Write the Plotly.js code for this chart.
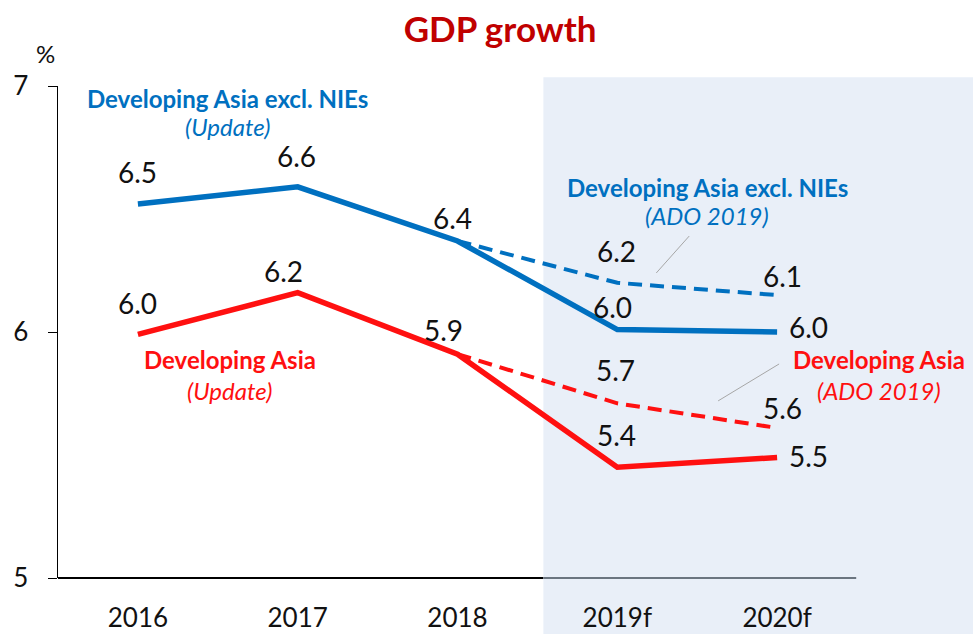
<!DOCTYPE html>
<html>
<head>
<meta charset="utf-8">
<script src="https://cdn.plot.ly/plotly-3.0.1.min.js"></script>
<style>html,body{margin:0;padding:0;background:#fff;}#chart{width:973px;height:634px;}</style>
</head>
<body>
<div id="chart"></div>
<script>
// ---- data ----
const years = ["2016", "2017", "2018", "2019f", "2020f"];
const exNiesUpdate = [6.52, 6.59, 6.37, 6.01, 6.00];
const exNiesAdo = [null, null, 6.37, 6.20, 6.15];
const devAsiaUpdate = [5.99, 6.16, 5.91, 5.45, 5.49];
const devAsiaAdo = [null, null, 5.91, 5.71, 5.61];
const exNiesUpdateLabels = ["6.5", "6.6", "6.4", "6.0", "6.0"];
const exNiesAdoLabels = [null, null, null, "6.2", "6.1"];
const devAsiaUpdateLabels = ["6.0", "6.2", "5.9", "5.4", "5.5"];
const devAsiaAdoLabels = [null, null, null, "5.7", "5.6"];
const yTicks = [5, 6, 7];

const BLUE = "#0070C0", RED = "#FF1010", DARKRED = "#C00000";
const FONT = "Lato, 'Open Sans', sans-serif";

const traces = [
  {x: years, y: exNiesAdo, mode: "lines", line: {color: BLUE, width: 4, dash: "14px,8px"}, connectgaps: false, hoverinfo: "skip"},
  {x: years, y: devAsiaAdo, mode: "lines", line: {color: RED, width: 4, dash: "14px,8px"}, connectgaps: false, hoverinfo: "skip"},
  {x: years, y: exNiesUpdate, mode: "lines", line: {color: BLUE, width: 5.5}, hoverinfo: "skip"},
  {x: years, y: devAsiaUpdate, mode: "lines", line: {color: RED, width: 5.5}, hoverinfo: "skip"}
];

// label offsets (pixels) relative to each point
const offUpdBlue = [[0,32],[-1,31],[-5,23],[-5,23],[31,5]];
const offAdoBlue = [null,null,null,[-1,32],[5,19]];
const offUpdRed = [[0,31],[-14,22],[-14,24],[-1,32],[31,1]];
const offAdoRed = [null,null,null,[-2,33],[5,20]];

const annotations = [];
function addLabels(vals, labels, offs) {
  years.forEach((yr, i) => {
    if (labels[i] == null) return;
    // category index used as x position (numeric-looking category names would be misread)
    annotations.push({x: i, y: vals[i], xref: "x", yref: "y", text: labels[i], showarrow: false,
      xanchor: "center", yanchor: "middle",
      xshift: offs[i][0], yshift: offs[i][1], font: {family: FONT, size: 28, color: "#111"}});
  });
}
addLabels(exNiesUpdate, exNiesUpdateLabels, offUpdBlue);
addLabels(exNiesAdo, exNiesAdoLabels, offAdoBlue);
addLabels(devAsiaUpdate, devAsiaUpdateLabels, offUpdRed);
addLabels(devAsiaAdo, devAsiaAdoLabels, offAdoRed);

function seriesLabel(text, x, y, color, italic) {
  annotations.push({x: x, y: y, xref: "paper", yref: "paper", text: italic ? "<i>" + text + "</i>" : "<b>" + text + "</b>",
    showarrow: false, xanchor: "center", yanchor: "middle", font: {family: FONT, size: 24, color: color}});
}
seriesLabel("Developing Asia excl. NIEs", 0.2125, 0.9756, BLUE, false);
seriesLabel("(Update)", 0.2125, 0.9167, BLUE, true);
seriesLabel("Developing Asia excl. NIEs", 0.8125, 0.7947, BLUE, false);
seriesLabel("(ADO 2019)", 0.8125, 0.7358, BLUE, true);
seriesLabel("Developing Asia", 0.215, 0.4431, RED, false);
seriesLabel("(Update)", 0.215, 0.3801, RED, true);
seriesLabel("Developing Asia", 1.0275, 0.4431, RED, false);
seriesLabel("(ADO 2019)", 1.0275, 0.3801, RED, true);

annotations.push({x: -0.016, y: 1.067, xref: "paper", yref: "paper", text: "%", showarrow: false,
  xanchor: "center", yanchor: "middle", font: {family: FONT, size: 24, color: "#111"}});

const shapes = [
  {type: "rect", xref: "paper", yref: "paper", x0: 0.6075, x1: 1.146, y0: -0.12, y1: 1.018,
   fillcolor: "#E9EFF8", line: {width: 0}, layer: "below"},
  {type: "line", xref: "paper", yref: "paper", x0: 0, x1: 0.6075, y0: 0, y1: 0, line: {color: "#000", width: 2}},
  {type: "line", xref: "paper", yref: "paper", x0: 0.6075, x1: 0.999, y0: 0, y1: 0, line: {color: "#6B7580", width: 2}},
  {type: "line", xref: "x", yref: "y", x0: 3.45, y0: 6.39, x1: 3.244, y1: 6.24, line: {color: "#A6A6A6", width: 1}},
  {type: "line", xref: "x", yref: "y", x0: 4.0125, y0: 5.87, x1: 3.631, y1: 5.72, line: {color: "#A6A6A6", width: 1}}
];

const layout = {
  width: 973, height: 634,
  margin: {l: 58, r: 116, t: 86, b: 56, pad: 0},
  paper_bgcolor: "#fff", plot_bgcolor: "rgba(0,0,0,0)",
  showlegend: false,
  title: {text: "<b>GDP growth</b>", x: 0.514, xref: "container", xanchor: "center", y: 0.953, yanchor: "middle",
          font: {family: FONT, size: 35, color: DARKRED}},
  xaxis: {type: "category", range: [-0.5, 4.5], showgrid: false, zeroline: false, showline: false,
          ticks: "", ticklabelstandoff: 22, tickfont: {family: FONT, size: 26, color: "#111"}, fixedrange: true},
  yaxis: {range: [5, 7], tickvals: yTicks, ticktext: yTicks.map(String), showgrid: false, zeroline: false,
          showline: true, linecolor: "#000", linewidth: 1.5, ticks: "outside", ticklen: 9, tickcolor: "#000",
          ticklabelstandoff: 14, tickfont: {family: FONT, size: 26, color: "#111"}, fixedrange: true},
  shapes: shapes,
  annotations: annotations
};

Plotly.newPlot("chart", traces, layout, {displayModeBar: false, staticPlot: true});
</script>
</body>
</html>
